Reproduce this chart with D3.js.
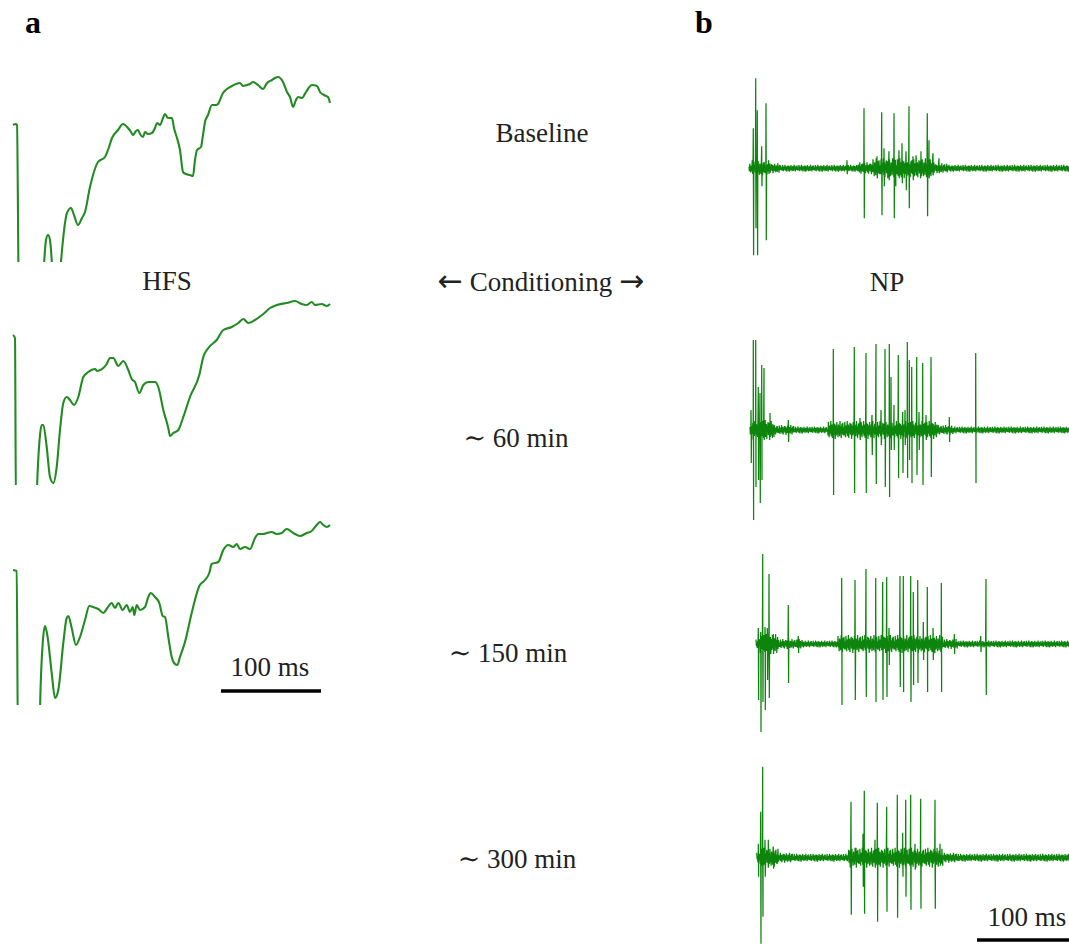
<!DOCTYPE html>
<html>
<head>
<meta charset="utf-8">
<script src="https://cdn.jsdelivr.net/npm/d3@7"></script>
<style>
  body { margin: 0; background: #fff; }
  text { font-family: "Liberation Serif", "DejaVu Serif", serif; fill: #222; }
</style>
</head>
<body>
<svg id="fig" width="1069" height="945"></svg>
<script>
// ---- data: field potentials (panel a), [time ms, mV]
const fepspBaseline = [[0,0],[3,0.01],[4,0],[6,-1.8],[29,-1.8],[31,-1.4],[33,-1.15],[35,-1.1],[37,-1.15],[39,-1.4],[41,-1.8],[45,-1.8],[48,-1.37],[50,-1.15],[54,-0.88],[58,-0.83],[61,-0.9],[65,-1.0],[69,-0.93],[72,-0.87],[77,-0.62],[85,-0.37],[92,-0.32],[95,-0.25],[99,-0.13],[105,-0.05],[110,0.01],[115,-0.03],[118,-0.07],[120,-0.1],[123,-0.06],[125,-0.05],[127,-0.09],[130,-0.12],[132,-0.07],[135,-0.09],[139,-0.08],[142,-0.03],[144,0.02],[147,0],[150,0.07],[152,0.11],[155,0.07],[159,0.07],[161,-0.03],[164,-0.13],[167,-0.25],[170,-0.47],[173,-0.49],[177,-0.5],[180,-0.51],[182,-0.35],[184,-0.25],[188,-0.22],[190,-0.1],[192,0.03],[195,0.1],[199,0.2],[203,0.2],[205,0.21],[210,0.32],[214,0.36],[219,0.39],[223,0.41],[227,0.42],[230,0.39],[234,0.4],[237,0.41],[240,0.43],[245,0.4],[250,0.36],[254,0.42],[259,0.45],[262,0.47],[265,0.48],[270,0.43],[274,0.33],[277,0.28],[280,0.18],[283,0.25],[285,0.28],[289,0.27],[293,0.33],[299,0.4],[304,0.39],[307,0.33],[311,0.3],[315,0.28],[317,0.22]];

const fepsp60 = [[0,0],[2,-0.03],[3,-1.8],[23,-1.8],[24.5,-1.4],[27,-1.0],[28.7,-0.9],[30.3,-0.9],[33.7,-1.12],[37,-1.42],[40.3,-1.48],[43.7,-1.32],[47,-0.95],[50.3,-0.68],[53.7,-0.62],[57,-0.65],[61,-0.7],[65.3,-0.62],[70.3,-0.42],[75.3,-0.37],[82,-0.34],[84.3,-0.36],[90.3,-0.33],[93.7,-0.29],[97,-0.23],[100.3,-0.23],[105.3,-0.31],[110.3,-0.26],[115.3,-0.35],[118.7,-0.44],[122,-0.47],[126.3,-0.58],[130.3,-0.5],[135.3,-0.47],[142,-0.47],[145.3,-0.52],[150.3,-0.75],[155.3,-0.93],[157,-1.01],[160.3,-0.98],[165.3,-0.95],[170.3,-0.82],[177,-0.62],[186.3,-0.4],[190.3,-0.22],[195.3,-0.13],[203.7,-0.05],[210.3,0.05],[218.7,0.08],[225.3,0.12],[230.3,0.16],[235.3,0.12],[242,0.15],[250.3,0.21],[257,0.27],[263.7,0.3],[273.7,0.32],[282,0.34],[288.7,0.31],[293.7,0.3],[298.7,0.33],[302,0.3],[308.7,0.31],[313.7,0.29],[317,0.31]];

const fepsp150 = [[0,0],[3.7,-0.01],[5,-1.8],[26,-1.8],[27.5,-1.2],[29.7,-0.73],[32,-0.56],[34.3,-0.65],[38.7,-1.03],[42,-1.28],[45.3,-1.2],[50.3,-0.73],[53.7,-0.48],[55.3,-0.46],[58.7,-0.58],[63,-0.75],[67,-0.67],[72,-0.5],[76.3,-0.36],[80.3,-0.37],[85.3,-0.39],[90.3,-0.43],[94.3,-0.38],[98.7,-0.33],[102,-0.38],[105.3,-0.33],[109.7,-0.4],[113.7,-0.35],[117,-0.42],[119.7,-0.37],[121.3,-0.45],[123.7,-0.35],[127,-0.4],[132,-0.37],[135.3,-0.27],[137.7,-0.23],[142,-0.27],[146.3,-0.33],[149.7,-0.46],[152,-0.47],[155.3,-0.67],[158.7,-0.87],[161,-0.93],[164.3,-0.95],[167,-0.87],[172,-0.72],[178.7,-0.43],[186.3,-0.16],[192,-0.1],[196.3,-0.03],[198.7,0.06],[205.3,0.08],[210.3,0.2],[215.3,0.25],[220.3,0.23],[223.7,0.26],[227,0.21],[232,0.23],[237,0.21],[242,0.32],[245.3,0.36],[250.3,0.36],[253.7,0.37],[258.7,0.38],[263.7,0.36],[268.7,0.37],[273.7,0.41],[280.3,0.37],[287,0.34],[293.7,0.37],[298.7,0.39],[303.7,0.45],[307,0.48],[310.3,0.45],[313.7,0.43],[317,0.45]];

// ---- data: unit recordings (panel b)
// spikes: [time ms, peak, trough]
const npBaselineSpikes = [[5.3,0.4,-0.87],[7.7,0.9,-0.6],[9.3,0.58,-0.87],[13.7,0.22,-0.18],[18,0.65,-0.72],[99,0.08,-0.06],[116,0.6,-0.5],[129,0.12,-0.1],[133.7,0.56,-0.47],[136,0.2,-0.18],[141,0.17,-0.12],[146,0.55,-0.5],[147.5,0.08,-0.18],[151,0.18,-0.1],[154,0.25,-0.15],[158,0.17,-0.22],[161,0.62,-0.4],[165,0.12,-0.12],[168,0.13,-0.06],[173,0.17,-0.08],[179.3,0.55,-0.48],[181,0.28,-0.1],[185,0.15,-0.06],[191,0.1,-0.05]];
const np60Spikes = [[3,0.2,-0.33],[5.3,0.9,-0.9],[7.7,0.9,-0.57],[10.3,0.43,-0.5],[12,0.37,-0.73],[13.7,0.65,-0.5],[16,0.62,-0.1],[22,0.17,-0.07],[40.3,0.1,-0.12],[85.3,0.81,-0.65],[106.3,0.83,-0.63],[112,0.12,-0.1],[118,0.77,-0.63],[124,0.15,-0.25],[128,0.86,-0.54],[133,0.2,-0.15],[137,0.81,-0.57],[141.3,0.86,-0.67],[143,0.53,-0.2],[146,0.25,-0.2],[150.3,0.75,-0.48],[154.7,0.18,-0.43],[157,0.2,-0.15],[159.3,0.88,-0.48],[161.3,0.7,-0.3],[163.7,0.63,-0.53],[168.7,0.73,-0.45],[171,0.18,-0.2],[174.7,0.67,-0.55],[178,0.15,-0.1],[183,0.73,-0.47],[201.3,0.13,-0.12],[227.7,0.77,-0.53]];
const np150Spikes = [[10.3,0.16,-0.56],[12.7,0.12,-0.88],[14.7,0.9,-0.58],[17,0.17,-0.66],[19.3,0.16,-0.36],[21,0.7,-0.54],[25.3,0.1,-0.1],[40.3,0.39,-0.39],[50.3,0.08,-0.09],[93.7,0.66,-0.61],[107,0.64,-0.56],[118,0.75,-0.53],[127.7,0.66,-0.58],[134.7,0.62,-0.56],[138.7,0.67,-0.53],[141,0.16,-0.21],[152,0.68,-0.43],[155.3,0.68,-0.48],[162.7,0.68,-0.58],[165.3,0.52,-0.41],[169.7,0.64,-0.39],[175.3,0.22,-0.16],[179.3,0.57,-0.48],[185,0.16,-0.16],[193.3,0.61,-0.48],[206.3,0.1,-0.1],[232.7,0.08,-0.08],[238,0.65,-0.51]];
const np300Spikes = [[10.3,0.14,-0.19],[12.7,0.46,-0.86],[14.7,0.91,-0.59],[17,0.18,-0.19],[20.3,0.18,-0.09],[25.3,0.11,-0.11],[103,0.56,-0.57],[108,0.1,-0.1],[115,0.24,-0.29],[116.3,0.67,-0.56],[127,0.18,-0.1],[129.3,0.55,-0.64],[138.7,0.51,-0.54],[149.3,0.63,-0.6],[154.7,0.25,-0.19],[157.7,0.58,-0.39],[162.7,0.63,-0.52],[167,0.14,-0.12],[172.7,0.59,-0.51],[187,0.58,-0.51],[192,0.14,-0.08]];

// background activity level: [from ms, to ms, amplitude]
const npBaselineNoise = [[1,3,0.05],[3,22,0.08],[22,32,0.05],[32,110,0.035],[110,125,0.06],[125,186,0.1],[186,200,0.05],[200,330,0.035]];
const np60Noise = [[2,4,0.05],[4,26,0.1],[26,46,0.05],[46,80,0.035],[80,190,0.09],[190,205,0.05],[205,330,0.035]];
const np150Noise = [[8,12,0.05],[12,30,0.1],[30,55,0.05],[55,90,0.035],[90,195,0.09],[195,210,0.05],[210,330,0.035]];
const np300Noise = [[8.7,12,0.05],[12,30,0.1],[30,45,0.05],[45,100,0.04],[100,195,0.1],[195,210,0.05],[210,330,0.04]];

// jitter shape of the background trace (relative units)
const noisePattern = [0.3,-0.6,0.9,-0.2,-0.8,0.5,0.1,-0.4,1,-0.7,0.2,0.6,-0.9,0.4,-0.1,0.8,-0.5,-0.3,0.7,-1,0.2,0.5,-0.6,0.9,-0.4,0.1,-0.8,0.6,0.3,-0.2,-0.7,1,-0.3,0.4,-0.9,0.2,0.7,-0.5,0.8,-0.1,-0.6];

const rowLabels = ["Baseline", "Conditioning", "\u223C 60 min", "\u223C 150 min", "\u223C 300 min"];
const scaleLabel = "100 ms";

// ---- layout
const svg = d3.select("#fig");
const greenA = "#228b22";
const greenB = "#0d850d";

const xLeft = d3.scaleLinear().domain([0, 317]).range([13, 330]);
const xRight = d3.scaleLinear().domain([0, 325]).range([748, 1073]);

// panel a traces
const leftRows = [
  { data: fepspBaseline, base: 125, clipTo: -1.37 },
  { data: fepsp60, base: 335, clipTo: -1.5 },
  { data: fepsp150, base: 570, clipTo: -1.35 }
];

leftRows.forEach((row, i) => {
  const y = d3.scaleLinear().domain([0, 1]).range([row.base, row.base - 100]);
  svg.append("clipPath").attr("id", "clipL" + i)
    .append("rect")
    .attr("x", 0).attr("y", row.base - 110)
    .attr("width", 345).attr("height", y(row.clipTo) - (row.base - 110));

  svg.append("path").datum(row.data)
    .attr("clip-path", `url(#clipL${i})`)
    .attr("fill", "none")
    .attr("stroke", greenA)
    .attr("stroke-width", 2.1)
    .attr("stroke-linejoin", "round")
    .attr("d", d3.line()
      .x(d => xLeft(d[0]))
      .y(d => y(d[1]))
      .curve(d3.curveMonotoneX));
});

// panel b traces
function buildTrace(start, noise, spikes, offset) {
  const amp = t => {
    const seg = noise.find(s => t >= s[0] && t < s[1]);
    return seg ? seg[2] : 0.03;
  };
  const pts = [];
  let i = 0;
  for (let t = start; t <= 325; t += 0.4, i++) {
    pts.push([t, noisePattern[(i + offset) % noisePattern.length] * amp(t)]);
  }
  spikes.forEach(s => {
    pts.push([s[0], s[1]], [s[0] + 0.3, s[2]]);
  });
  pts.sort((a, b) => a[0] - b[0]);
  return pts;
}

const rightRows = [
  { spikes: npBaselineSpikes, noise: npBaselineNoise, start: 1, base: 168.3, offset: 0 },
  { spikes: np60Spikes, noise: np60Noise, start: 2, base: 430, offset: 11 },
  { spikes: np150Spikes, noise: np150Noise, start: 8, base: 644, offset: 23 },
  { spikes: np300Spikes, noise: np300Noise, start: 8.7, base: 857.7, offset: 31 }
];

rightRows.forEach(row => {
  const y = d3.scaleLinear().domain([0, 1]).range([row.base, row.base - 100]);
  svg.append("path")
    .datum(buildTrace(row.start, row.noise, row.spikes, row.offset))
    .attr("fill", "none")
    .attr("stroke", greenB)
    .attr("stroke-width", 1.25)
    .attr("d", d3.line().x(d => xRight(d[0])).y(d => y(d[1])));
});

// scale bars (100 ms)
[{ x: xLeft, t0: 208, y: 691, lx: 270, ly: 676 },
 { x: xRight, t0: 229, y: 940, lx: 1027, ly: 926 }].forEach(b => {
  svg.append("line")
    .attr("x1", b.x(b.t0)).attr("x2", b.x(b.t0 + 100))
    .attr("y1", b.y).attr("y2", b.y)
    .attr("stroke", "#000").attr("stroke-width", 3.5);
  svg.append("text").attr("x", b.lx).attr("y", b.ly)
    .attr("text-anchor", "middle").attr("font-size", 27)
    .text(scaleLabel);
});

// row labels in the middle
const labelPos = [[542, 142], [541, 291], [516, 447], [508, 662], [517, 868]];
rowLabels.forEach((lab, i) => {
  const t = svg.append("text")
    .attr("x", labelPos[i][0]).attr("y", labelPos[i][1])
    .attr("text-anchor", "middle").attr("font-size", 27);
  if (i === 1) {
    t.append("tspan").style("font-family", "DejaVu Sans").style("font-size", "30px").text("\u2190");
    t.append("tspan").text(" " + lab + " ");
    t.append("tspan").style("font-family", "DejaVu Sans").style("font-size", "30px").text("\u2192");
  } else {
    t.text(lab);
  }
});

// stimulus labels
svg.append("text").attr("x", 167).attr("y", 290)
  .attr("text-anchor", "middle").attr("font-size", 27).text("HFS");
svg.append("text").attr("x", 887).attr("y", 291)
  .attr("text-anchor", "middle").attr("font-size", 27).text("NP");

// panel letters
svg.append("text").attr("x", 25).attr("y", 33)
  .attr("font-size", 32).attr("font-weight", "bold").style("fill", "#000").text("a");
svg.append("text").attr("x", 695).attr("y", 33)
  .attr("font-size", 32).attr("font-weight", "bold").style("fill", "#000").text("b");
</script>
</body>
</html>
